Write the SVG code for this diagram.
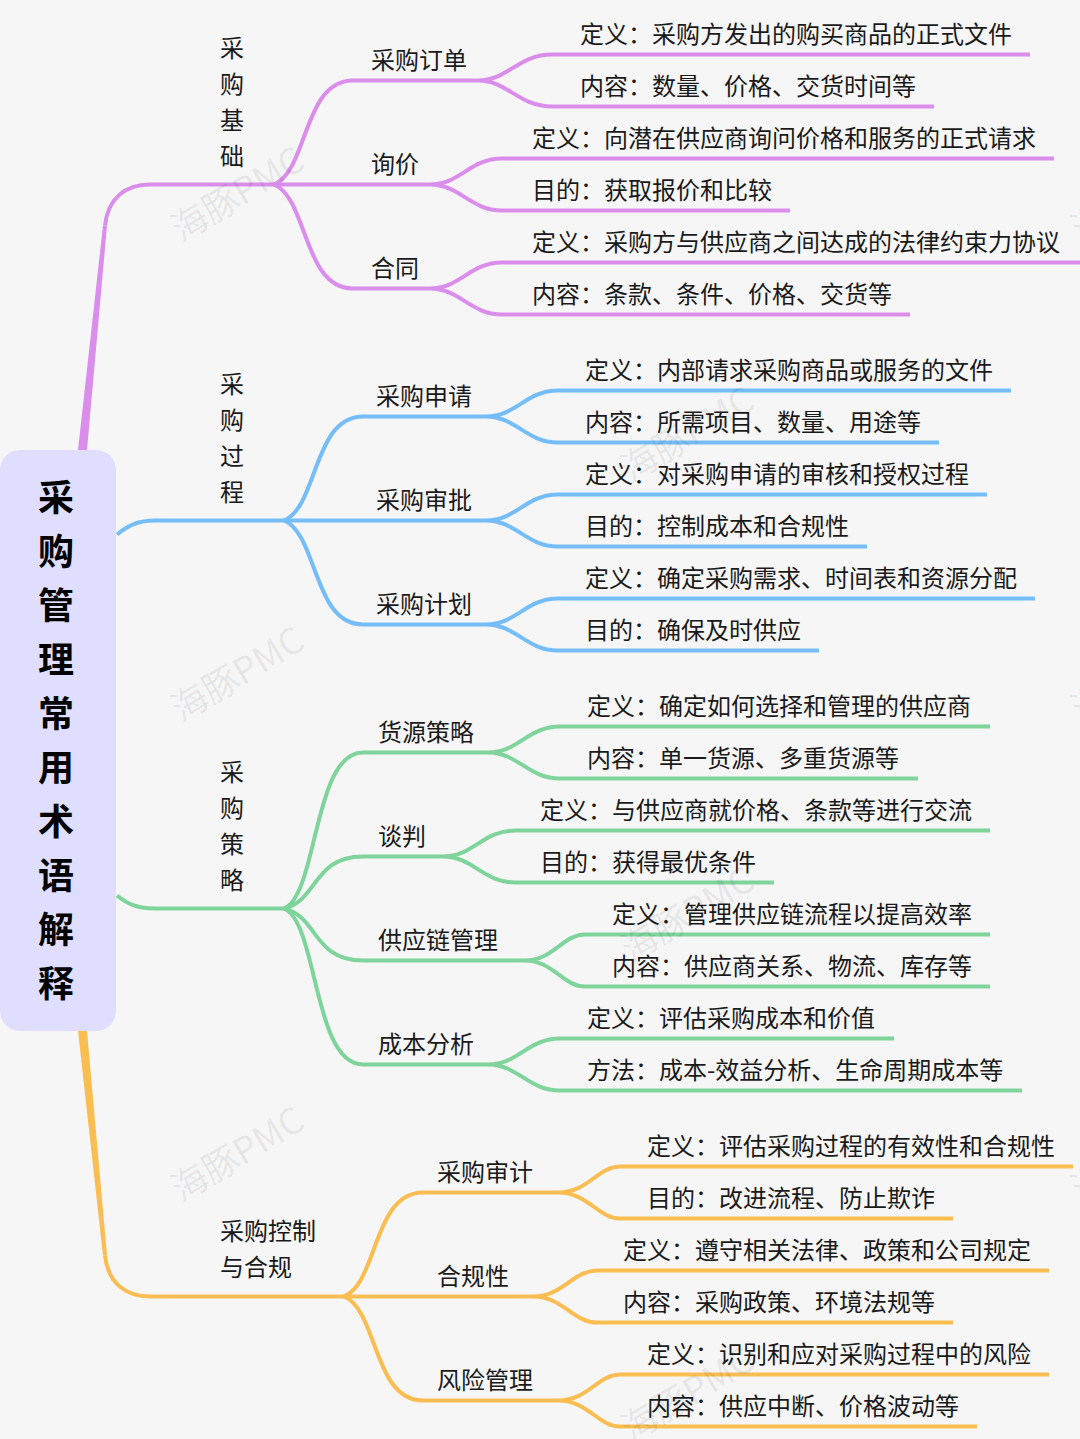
<svg xmlns="http://www.w3.org/2000/svg" width="1080" height="1439" viewBox="0 0 1080 1439">
<style>
text{font-family:"Noto Sans CJK SC","Noto Sans",sans-serif;font-size:24px;fill:#1a1a1a}
.title{font-size:36px;font-weight:700;fill:#000;text-anchor:middle}
.wm{font-size:36px;fill:#000;fill-opacity:.08;font-family:"Noto Sans CJK SC","Noto Sans",sans-serif}
.c{fill:none;stroke-width:4;stroke-linecap:butt}
.p{stroke:#DA8DEB}.b{stroke:#75BDF6}.g{stroke:#7ED49B}.o{stroke:#F9BD52}
</style>
<rect width="1080" height="1439" fill="#F6F6F7"/>
<g id="connectors" transform="translate(0,0.5)">
<path d="M78,449.5L103,225L107,225L87,449.5Z" fill="#DA8DEB"/>
<path class="c p" d="M105,225C108,198 125,184 150,184H280"/>
<path class="c p" d="M274,184C308,170 303,80 353,80H478C508,80 518,54 552,54H1030M478,80C508,80 518,106 552,106H934"/>
<path class="c p" d="M274,184H430C460,184 470,158 502,158H1054M430,184C460,184 470,210 502,210H790"/>
<path class="c p" d="M274,184C308,198 303,288 353,288H430C460,288 470,262 502,262H1080M430,288C460,288 470,314 502,314H910"/>
<path class="c b" d="M117,534C128,525 138,520 155,520H290"/>
<path class="c b" d="M284,520C318,506 313,416 363,416H486C516,416 526,390 558,390H1011M486,416C516,416 526,442 558,442H939"/>
<path class="c b" d="M284,520H486C516,520 526,494 558,494H987M486,520C516,520 526,546 558,546H867"/>
<path class="c b" d="M284,520C318,534 313,624 363,624H486C516,624 526,598 558,598H1035M486,624C516,624 526,650 558,650H819"/>
<path class="c g" d="M117,895C128,904 138,908 155,908H290"/>
<path class="c g" d="M284,908C318,894 313,752 363,752H488C518,752 528,726 560,726H990M488,752C518,752 528,778 560,778H918"/>
<path class="c g" d="M284,908C318,900 313,856 363,856H443C473,856 483,830 515,830H990M443,856C473,856 483,882 515,882H774"/>
<path class="c g" d="M284,908C318,916 313,960 363,960H525C553,960 563,934 585,934H990M525,960C553,960 563,986 585,986H990"/>
<path class="c g" d="M284,908C318,922 313,1064 363,1064H488C518,1064 528,1038 560,1038H894M488,1064C518,1064 528,1090 560,1090H1022"/>
<path d="M78,1030.5L103,1255L107,1255L87,1030.5Z" fill="#F9BD52"/>
<path class="c o" d="M105,1255C108,1282 125,1296 150,1296H350"/>
<path class="c o" d="M344,1296C378,1282 373,1192 423,1192H558C588,1192 598,1166 620,1166H1073M558,1192C588,1192 598,1218 620,1218H953"/>
<path class="c o" d="M344,1296H533C563,1296 573,1270 597,1270H1049M533,1296C563,1296 573,1322 597,1322H953"/>
<path class="c o" d="M344,1296C378,1310 373,1400 423,1400H558C588,1400 598,1374 620,1374H1049M558,1400C588,1400 598,1426 620,1426H977"/>
</g>
<g id="root"><rect x="0" y="450" width="116" height="581" rx="20" fill="#E0DEFE"/>
<text class="title" x="56" y="511">采</text><text class="title" x="56" y="565">购</text><text class="title" x="56" y="619">管</text><text class="title" x="56" y="673">理</text><text class="title" x="56" y="727">常</text><text class="title" x="56" y="781">用</text><text class="title" x="56" y="835">术</text><text class="title" x="56" y="889">语</text><text class="title" x="56" y="943">解</text><text class="title" x="56" y="997">释</text></g>
<g id="nodes" transform="translate(-1,-0.5)">
<g id="group1"><text x="221" y="57">采</text><text x="221" y="93">购</text><text x="221" y="129">基</text><text x="221" y="165">础</text></g>
<g id="n11"><text x="372" y="69">采购订单</text><text x="581" y="43">定义：采购方发出的购买商品的正式文件</text><text x="581" y="95">内容：数量、价格、交货时间等</text></g>
<g id="n12"><text x="372" y="173">询价</text><text x="533" y="147">定义：向潜在供应商询问价格和服务的正式请求</text><text x="533" y="199">目的：获取报价和比较</text></g>
<g id="n13"><text x="372" y="277">合同</text><text x="533" y="251">定义：采购方与供应商之间达成的法律约束力协议</text><text x="533" y="303">内容：条款、条件、价格、交货等</text></g>
<g id="group2"><text x="221" y="393">采</text><text x="221" y="429">购</text><text x="221" y="465">过</text><text x="221" y="501">程</text></g>
<g id="n21"><text x="377" y="405">采购申请</text><text x="586" y="379">定义：内部请求采购商品或服务的文件</text><text x="586" y="431">内容：所需项目、数量、用途等</text></g>
<g id="n22"><text x="377" y="509">采购审批</text><text x="586" y="483">定义：对采购申请的审核和授权过程</text><text x="586" y="535">目的：控制成本和合规性</text></g>
<g id="n23"><text x="377" y="613">采购计划</text><text x="586" y="587">定义：确定采购需求、时间表和资源分配</text><text x="586" y="639">目的：确保及时供应</text></g>
<g id="group3"><text x="221" y="781">采</text><text x="221" y="817">购</text><text x="221" y="853">策</text><text x="221" y="889">略</text></g>
<g id="n31"><text x="379" y="741">货源策略</text><text x="588" y="715">定义：确定如何选择和管理的供应商</text><text x="588" y="767">内容：单一货源、多重货源等</text></g>
<g id="n32"><text x="379" y="845">谈判</text><text x="541" y="819">定义：与供应商就价格、条款等进行交流</text><text x="541" y="871">目的：获得最优条件</text></g>
<g id="n33"><text x="379" y="949">供应链管理</text><text x="613" y="923">定义：管理供应链流程以提高效率</text><text x="613" y="975">内容：供应商关系、物流、库存等</text></g>
<g id="n34"><text x="379" y="1053">成本分析</text><text x="588" y="1027">定义：评估采购成本和价值</text><text x="588" y="1079">方法：成本-效益分析、生命周期成本等</text></g>
<g id="group4"><text x="221" y="1240">采购控制</text><text x="221" y="1276">与合规</text></g>
<g id="n41"><text x="438" y="1181">采购审计</text><text x="648" y="1155">定义：评估采购过程的有效性和合规性</text><text x="648" y="1207">目的：改进流程、防止欺诈</text></g>
<g id="n42"><text x="438" y="1285">合规性</text><text x="624" y="1259">定义：遵守相关法律、政策和公司规定</text><text x="624" y="1311">内容：采购政策、环境法规等</text></g>
<g id="n43"><text x="438" y="1389">风险管理</text><text x="648" y="1363">定义：识别和应对采购过程中的风险</text><text x="648" y="1415">内容：供应中断、价格波动等</text></g>
</g>
<g id="watermarks">
<text class="wm" transform="translate(181,243) rotate(-31)">海豚PMC</text>
<text class="wm" transform="translate(181,723) rotate(-31)">海豚PMC</text>
<text class="wm" transform="translate(181,1203) rotate(-31)">海豚PMC</text>
<text class="wm" transform="translate(631,483) rotate(-31)">海豚PMC</text>
<text class="wm" transform="translate(631,963) rotate(-31)">海豚PMC</text>
<text class="wm" transform="translate(631,1443) rotate(-31)">海豚PMC</text>
<text class="wm" transform="translate(1081,243) rotate(-31)">海豚PMC</text>
<text class="wm" transform="translate(1081,723) rotate(-31)">海豚PMC</text>
<text class="wm" transform="translate(1081,1203) rotate(-31)">海豚PMC</text>
</g>
</svg>
